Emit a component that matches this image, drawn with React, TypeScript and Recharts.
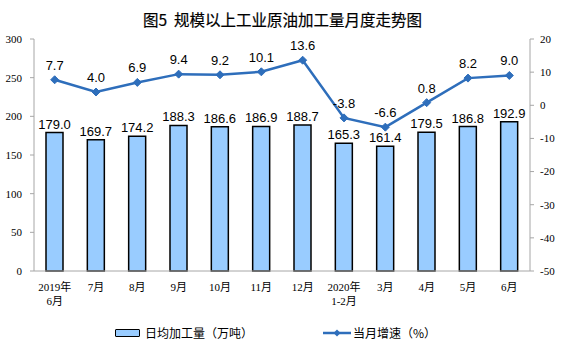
import React from 'react';
import { ComposedChart, Bar, Line, XAxis, YAxis, LabelList } from 'recharts';

const categories = ['2019年\n6月', '7月', '8月', '9月', '10月', '11月', '12月', '2020年\n1-2月', '3月', '4月', '5月', '6月'];
const dailyOutput = [179.0, 169.7, 174.2, 188.3, 186.6, 186.9, 188.7, 165.3, 161.4, 179.5, 186.8, 192.9];
const growth = [7.7, 4.0, 6.9, 9.4, 9.2, 10.1, 13.6, -3.8, -6.6, 0.8, 8.2, 9.0];
const leftTicks = [0, 50, 100, 150, 200, 250, 300];
const rightTicks = [-50, -40, -30, -20, -10, 0, 10, 20];
const boundaryTicks = categories.map((_, i) => i - 0.5).slice(1);

const data = categories.map((c, i) => ({ name: c, output: dailyOutput[i], growth: growth[i] }));

const LINE = '#2E6EBB';
const AXIS = '#A6A6A6';
const SERIF = '"Liberation Serif", "Times New Roman", "Noto Sans CJK SC", serif';
const SANS = '"Liberation Sans", Arial, sans-serif';
const CJK = '"Noto Sans CJK SC", sans-serif';

const XTick = (props: any) => {
  const { x, y, payload } = props;
  const lines = String(payload.value).split('\n');
  return (
    <g>
      {lines.map((l: string, i: number) => (
        <text key={i} x={x} y={y + 12 + i * 14} textAnchor="middle" fontSize={11} fill="#000" fontFamily={SERIF}>
          {l}
        </text>
      ))}
    </g>
  );
};

const EmptyTick = () => <g />;

const Diamond = (props: any) => {
  const { cx, cy } = props;
  if (cx == null || cy == null) return null;
  const r = 4;
  return <polygon points={`${cx},${cy - r} ${cx + r},${cy} ${cx},${cy + r} ${cx - r},${cy}`} fill={LINE} stroke={LINE} />;
};

export default function App() {
  return (
    <div style={{ position: 'absolute', left: 0, top: 0, width: 561, height: 357, background: '#fff' }}>
      <div
        style={{
          position: 'absolute',
          left: 0,
          top: 8,
          width: 561,
          textAlign: 'center',
          fontFamily: CJK,
          fontWeight: 400,
          fontSize: 15.5,
          paddingLeft: 4,
          boxSizing: 'border-box',
          color: '#000',
          whiteSpace: 'pre',
          WebkitTextStroke: '0.2px #000',
        }}
      >
        图5  规模以上工业原油加工量月度走势图
      </div>
      <ComposedChart width={561} height={357} data={data} margin={{ top: 39, right: 0, left: 0, bottom: 56 }}>
        <XAxis
          xAxisId="b"
          type="number"
          domain={[-0.5, 11.5]}
          ticks={boundaryTicks}
          interval={0}
          orientation="bottom"
          mirror
          height={0}
          axisLine={false}
          tick={<EmptyTick />}
          tickSize={3}
          tickLine={{ stroke: AXIS }}
        />
        <XAxis
          dataKey="name"
          xAxisId="x"
          tick={<XTick />}
          tickLine={false}
          axisLine={{ stroke: AXIS }}
          interval={0}
          height={30}
        />
        <YAxis
          yAxisId="left"
          orientation="left"
          domain={[0, 300]}
          ticks={leftTicks}
          width={34}
          tickSize={4}
          tickMargin={8}
          axisLine={{ stroke: AXIS }}
          tickLine={{ stroke: AXIS }}
          tick={{ fontSize: 11, fill: '#000', fontFamily: SERIF }}
          interval={0}
        />
        <YAxis
          yAxisId="right"
          orientation="right"
          domain={[-50, 20]}
          ticks={rightTicks}
          width={31}
          tickSize={4}
          tickMargin={6}
          axisLine={{ stroke: AXIS }}
          tickLine={{ stroke: AXIS }}
          tick={{ fontSize: 11, fill: '#000', fontFamily: SERIF, textAnchor: 'start' }}
          interval={0}
        />
        <Bar xAxisId="x" yAxisId="left" dataKey="output" fill="#99CCFF" stroke="#000" strokeWidth={1.5} barSize={17} isAnimationActive={false}>
          <LabelList dataKey="output" position="top" offset={4} formatter={(v: any) => Number(v).toFixed(1)} style={{ fontSize: 13, fill: '#000', fontFamily: SANS }} />
        </Bar>
        <Line
          xAxisId="x"
          yAxisId="right"
          dataKey="growth"
          stroke={LINE}
          strokeWidth={2.5}
          dot={<Diamond />}
          activeDot={false}
          isAnimationActive={false}
        >
          <LabelList dataKey="growth" position="top" offset={10} formatter={(v: any) => Number(v).toFixed(1)} style={{ fontSize: 13, fill: '#000', fontFamily: SANS }} />
        </Line>
      </ComposedChart>
      <div style={{ position: 'absolute', left: 115, top: 324, display: 'flex', alignItems: 'center', fontFamily: CJK, fontSize: 12, color: '#000' }}>
        <span style={{ display: 'inline-block', width: 23, height: 6, background: '#99CCFF', border: '1.5px solid #000', borderRadius: 1, marginRight: 5 }} />
        <span>日均加工量（万吨）</span>
      </div>
      <div style={{ position: 'absolute', left: 323, top: 324, display: 'flex', alignItems: 'center', fontFamily: CJK, fontSize: 12, color: '#000' }}>
        <svg width={28} height={10} style={{ marginRight: 2 }}>
          <line x1={0} y1={5} x2={28} y2={5} stroke={LINE} strokeWidth={2.5} />
          <polygon points="14,1.5 17.5,5 14,8.5 10.5,5" fill={LINE} />
        </svg>
        <span>当月增速（%）</span>
      </div>
    </div>
  );
}
